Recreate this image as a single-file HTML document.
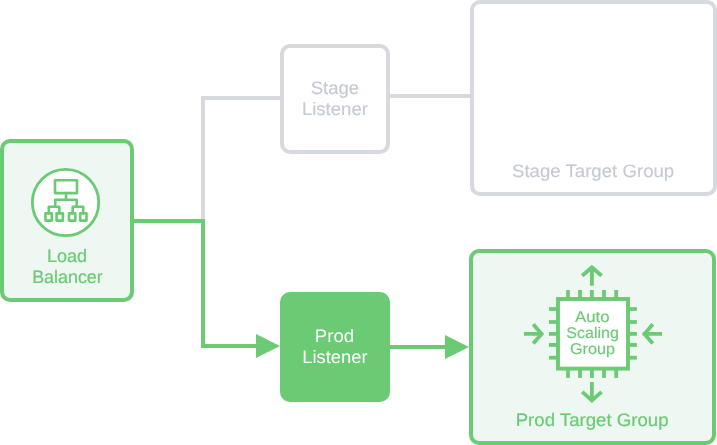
<!DOCTYPE html>
<html lang="en">
<head>
<meta charset="utf-8">
<title>Load Balancer Diagram</title>
<style>
html,body{margin:0;padding:0;background:#fff;}
body{width:717px;height:445px;overflow:hidden;}
svg{display:block;will-change:transform;}
text{font-family:"Liberation Sans",sans-serif;font-size:18px;text-anchor:middle;text-rendering:geometricPrecision;stroke-width:0.2px;stroke-linejoin:round;}
.g{fill:#6acb74;stroke:#6acb74;}
.s{fill:#c4cad2;stroke:#c4cad2;stroke-width:0.1px;}
.w{fill:#ffffff;stroke:none;}
.c{font-size:15.5px;stroke-width:0.15px;}
</style>
</head>
<body>
<svg width="717" height="445" viewBox="0 0 717 445">
  <rect width="717" height="445" fill="#fff"/>
  <!-- grey connectors -->
  <g fill="none" stroke="#d6d9dd" stroke-width="4">
    <path d="M203 219 V98 H281"/>
    <path d="M389 96 H471"/>
  </g>
  <!-- green connectors -->
  <g fill="none" stroke="#6acb74" stroke-width="4">
    <path d="M133 221 H203 V346 H258"/>
    <path d="M389 347 H447"/>
  </g>
  <path d="M256 334 L280 346 L256 358 Z" fill="#6acb74"/>
  <path d="M445 335 L469 347 L445 359 Z" fill="#6acb74"/>

  <!-- Stage listener -->
  <rect x="282" y="46" width="106" height="106" rx="8" fill="#fff" stroke="#d6d9dd" stroke-width="4"/>
  <text class="s" transform="translate(334.85 94) scale(1.028 1)">Stage</text>
  <text class="s" transform="translate(334.9 115) scale(1.03 1)">Listener</text>

  <!-- Stage target group -->
  <rect x="472" y="2" width="243" height="192" rx="8" fill="#fff" stroke="#d6d9dd" stroke-width="4"/>
  <text class="s" transform="translate(593.1 177) scale(1.035 1)">Stage Target Group</text>

  <!-- Load balancer -->
  <rect x="2" y="141" width="130" height="159" rx="8" fill="#eff7f2" stroke="#6acb74" stroke-width="4"/>
  <g fill="none" stroke="#6acb74" stroke-width="2.6" stroke-linejoin="round" stroke-linecap="round">
    <circle cx="65.55" cy="202.5" r="33.2" fill="#fff" stroke-width="2.8"/>
    <rect x="55" y="180.3" width="22" height="12.8"/>
    <path d="M66 193.1 V199.7 M55.3 206.7 V199.7 H76.7 V206.7"/>
    <path d="M48.8 213 V206.7 H59.3 V213 M72.7 213 V206.7 H83.2 V213"/>
    <rect x="45.5" y="213.4" width="6.3" height="7.2"/>
    <rect x="56.6" y="213.4" width="6.3" height="7.2"/>
    <rect x="69" y="213.4" width="6.3" height="7.2"/>
    <rect x="80.2" y="213.4" width="6.3" height="7.2"/>
  </g>
  <text class="g" transform="translate(67.1 262) scale(1.0 1)">Load</text>
  <text class="g" transform="translate(67.45 283) scale(0.993 1)">Balancer</text>

  <!-- Prod listener -->
  <rect x="280" y="292" width="110" height="110" rx="10" fill="#6acb74"/>
  <text class="w" transform="translate(334.5 342) scale(1.033 1)">Prod</text>
  <text class="w" transform="translate(334.9 363) scale(1.022 1)">Listener</text>

  <!-- Prod target group -->
  <rect x="471" y="251" width="243" height="192" rx="8" fill="#eff7f2" stroke="#6acb74" stroke-width="4"/>
  <text class="g" transform="translate(592.1 426) scale(1.035 1)">Prod Target Group</text>

  <!-- chip -->
  <g fill="#6acb74">
    <rect x="566.1" y="290" width="3.8" height="8"/>
    <rect x="578.1" y="290" width="3.8" height="8"/>
    <rect x="590" y="290" width="3.8" height="8"/>
    <rect x="602.1" y="290" width="3.8" height="8"/>
    <rect x="614.3" y="290" width="3.8" height="8"/>
    <rect x="566.1" y="370" width="3.8" height="7.9"/>
    <rect x="578.1" y="370" width="3.8" height="7.9"/>
    <rect x="590" y="370" width="3.8" height="7.9"/>
    <rect x="602.1" y="370" width="3.8" height="7.9"/>
    <rect x="614.3" y="370" width="3.8" height="7.9"/>
    <rect x="549" y="307.1" width="8" height="3.8"/>
    <rect x="549" y="320.1" width="8" height="3.8"/>
    <rect x="549" y="332" width="8" height="3.8"/>
    <rect x="549" y="343" width="8" height="3.9"/>
    <rect x="549" y="355.8" width="8" height="3.8"/>
    <rect x="629" y="307.1" width="7.9" height="3.8"/>
    <rect x="629" y="320.1" width="7.9" height="3.8"/>
    <rect x="629" y="332" width="7.9" height="3.8"/>
    <rect x="629" y="343" width="7.9" height="3.9"/>
    <rect x="629" y="355.8" width="7.9" height="3.8"/>
  </g>
  <rect x="558" y="299" width="70" height="69.6" fill="#fff" stroke="#6acb74" stroke-width="3.9"/>
  <text class="g c" transform="translate(592.3 322) scale(1.08 1)">Auto</text>
  <text class="g c" transform="translate(592.6 338) scale(1.035 1)">Scaling</text>
  <text class="g c" transform="translate(592.4 354) scale(1.045 1)">Group</text>

  <!-- arrows -->
  <g fill="none" stroke="#6acb74" stroke-width="3.8" stroke-linejoin="miter">
    <path d="M591.9 285.8 V266.5 M582.2 275.8 L591.9 267.3 L601.6 275.8"/>
    <path d="M591.9 382 V401.3 M582.2 391.85 L591.9 400.5 L601.6 391.85"/>
    <path d="M523.9 333.9 H543.2 M533.2 324.2 L541.6 333.9 L533.2 343.6"/>
    <path d="M662 333.9 H642.7 M652.8 324.2 L644.4 333.9 L652.8 343.6"/>
  </g>
</svg>
</body>
</html>
